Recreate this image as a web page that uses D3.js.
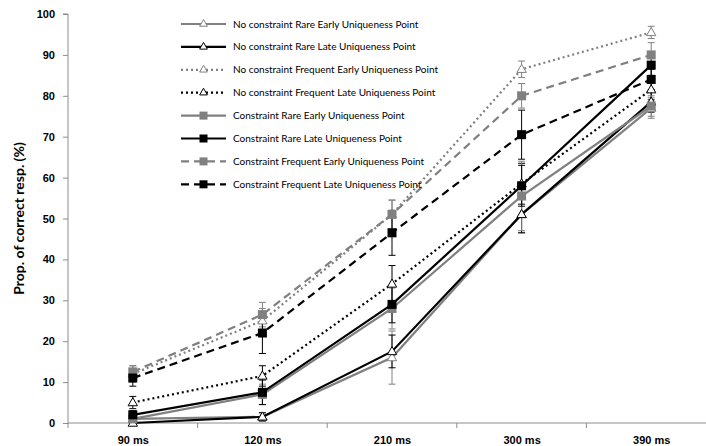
<!DOCTYPE html>
<html><head><meta charset="utf-8">
<script src="https://cdn.jsdelivr.net/npm/d3@7"></script>
<style>
html,body{margin:0;padding:0;background:#fff;}
svg{display:block;font-family:Lato, "Open Sans", sans-serif;}
</style></head>
<body><svg id="c" width="706" height="446"></svg>
<script>
const categories = ["90 ms","120 ms","210 ms","300 ms","390 ms"];
const seriesNames = [
  "No constraint Rare Early Uniqueness  Point",
  "No constraint Rare Late Uniqueness  Point",
  "No constraint Frequent  Early Uniqueness Point",
  "No constraint Frequent  Late Uniqueness  Point",
  "Constraint Rare Early Uniqueness Point",
  "Constraint Rare Late Uniqueness  Point",
  "Constraint Frequent  Early Uniqueness Point",
  "Constraint Frequent  Late Uniqueness  Point"
];
const ncRareEarly = [1, 1.5, 16, 51, 77];
const ncRareLate = [0, 1.5, 17.5, 51, 78.5];
const ncFreqEarly = [12, 25, 51, 86.5, 95.5];
const ncFreqLate = [5, 11.5, 34, 58.5, 81.5];
const cRareEarly = [1, 7, 28, 55.5, 77.5];
const cRareLate = [2, 7.5, 29, 58, 87.5];
const cFreqEarly = [12.5, 26.5, 51, 80, 90];
const cFreqLate = [11, 22, 46.5, 70.5, 84];
const ncRareEarlyErr = [0.5, 1, 6.5, 4.5, 2.5];
const ncRareLateErr = [0.5, 1, 4, 4.5, 2.5];
const ncFreqEarlyErr = [2, 3, 3.5, 2, 1.5];
const ncFreqLateErr = [1.5, 2.5, 4.5, 5, 2.5];
const cRareEarlyErr = [1, 2.5, 5, 8.5, 2.5];
const cRareLateErr = [1, 3, 4.5, 5, 2.5];
const cFreqEarlyErr = [1.5, 3, 3.5, 3, 3];
const cFreqLateErr = [2, 5, 5.5, 6, 2.5];
const yTicks = [0,10,20,30,40,50,60,70,80,90,100];

const GRAY = "#808080", BLACK = "#000";
const series = [
  {name: seriesNames[0], values: ncRareEarly, err: ncRareEarlyErr, color: GRAY, dash: null, marker: "tri"},
  {name: seriesNames[1], values: ncRareLate, err: ncRareLateErr, color: BLACK, dash: null, marker: "tri"},
  {name: seriesNames[2], values: ncFreqEarly, err: ncFreqEarlyErr, color: GRAY, dash: "dot", marker: "tri"},
  {name: seriesNames[3], values: ncFreqLate, err: ncFreqLateErr, color: BLACK, dash: "dot", marker: "tri"},
  {name: seriesNames[4], values: cRareEarly, err: cRareEarlyErr, color: GRAY, dash: null, marker: "sq"},
  {name: seriesNames[5], values: cRareLate, err: cRareLateErr, color: BLACK, dash: null, marker: "sq"},
  {name: seriesNames[6], values: cFreqEarly, err: cFreqEarlyErr, color: GRAY, dash: "dash", marker: "sq"},
  {name: seriesNames[7], values: cFreqLate, err: cFreqLateErr, color: BLACK, dash: "dash", marker: "sq"}
];

const svg = d3.select("#c");
const x0 = 68, x1 = 716;
const x = d3.scalePoint().domain(categories).range([x0, x1]).padding(0.5);
const y = d3.scaleLinear().domain([0,100]).range([423, 14]);

// y axis
const yAxis = svg.append("g").attr("transform", `translate(${x0},0)`)
  .call(d3.axisLeft(y).tickValues(yTicks).tickSize(5).tickPadding(8));
yAxis.select(".domain").attr("stroke", "#8c8c8c").attr("d", `M-5,${y(100)}H0V${y(0)}`);
yAxis.selectAll(".tick line").attr("stroke", "#8c8c8c");
yAxis.selectAll(".tick text").attr("font-size", 11).attr("font-weight", "bold").attr("fill", "#000");

// x axis
const step = x.step();
const xAxis = svg.append("g").attr("transform", `translate(0,${y(0)})`)
  .call(d3.axisBottom(x).tickSize(0).tickPadding(13));
xAxis.select(".domain").attr("stroke", "#8c8c8c").attr("d", `M${x0},0H${x1}`);
xAxis.selectAll(".tick text").attr("font-size", 11).attr("font-weight", "bold").attr("fill", "#000");
svg.append("g").selectAll("line").data(d3.range(categories.length + 1))
  .join("line")
  .attr("x1", i => x0 + i * step).attr("x2", i => x0 + i * step)
  .attr("y1", y(0)).attr("y2", y(0) + 5)
  .attr("stroke", "#8c8c8c");

// y title
svg.append("text").attr("transform", `translate(24,${(y(0)+y(100))/2}) rotate(-90)`)
  .attr("text-anchor", "middle").attr("font-size", 14).attr("font-weight", "bold")
  .text("Prop. of correct resp. (%)");

function dashArr(d){ return d === "dot" ? "2,3" : d === "dash" ? "8,5" : null; }
function drawMarker(g, m, color, cx, cy){
  if (m === "tri") {
    g.append("path").attr("d", d3.symbol(d3.symbolTriangle, 38)())
      .attr("transform", `translate(${cx},${cy+0.5})`)
      .attr("fill", "#fff").attr("stroke", color).attr("stroke-width", 1);
  } else {
    g.append("rect").attr("x", cx - 4.5).attr("y", cy - 4.5).attr("width", 9).attr("height", 9)
      .attr("fill", color);
  }
}

const line = d3.line().x((d,i) => x(categories[i])).y(d => y(d));
const plot = svg.append("g");
series.forEach(s => {
  const g = plot.append("g");
  s.values.forEach((v,i) => {
    const cx = x(categories[i]);
    const lo = y(Math.max(0, v - s.err[i])), hi = y(v + s.err[i]);
    g.append("line").attr("x1", cx).attr("x2", cx).attr("y1", lo).attr("y2", hi).attr("stroke", s.color).attr("stroke-width", 1);
    [lo, hi].forEach(yy => g.append("line").attr("x1", cx - 3.5).attr("x2", cx + 3.5).attr("y1", yy).attr("y2", yy).attr("stroke", s.color).attr("stroke-width", 1));
  });
});
series.forEach(s => {
  plot.append("path").datum(s.values).attr("d", line)
    .attr("fill", "none").attr("stroke", s.color).attr("stroke-width", 2.2)
    .attr("stroke-dasharray", dashArr(s.dash));
  const g = plot.append("g");
  s.values.forEach((v,i) => drawMarker(g, s.marker, s.color, x(categories[i]), y(v)));
});

// legend
const lg = svg.append("g");
series.forEach((s,i) => {
  const yy = 24 + i * 22.9;
  lg.append("line").attr("x1", 181).attr("x2", 226).attr("y1", yy).attr("y2", yy)
    .attr("stroke", s.color).attr("stroke-width", 2.2).attr("stroke-dasharray", dashArr(s.dash));
  if (s.marker === "tri") {
    lg.append("path").attr("d", d3.symbol(d3.symbolTriangle, 26)())
      .attr("transform", `translate(203.5,${yy})`)
      .attr("fill", "#fff").attr("stroke", s.color).attr("stroke-width", 1);
  } else {
    lg.append("rect").attr("x", 199.5).attr("y", yy - 4).attr("width", 8).attr("height", 8).attr("fill", s.color);
  }
  lg.append("text").attr("x", 233).attr("y", yy).attr("dy", "0.35em")
    .attr("font-size", 10).attr("fill", "#000").text(s.name);
});
</script></body></html>
